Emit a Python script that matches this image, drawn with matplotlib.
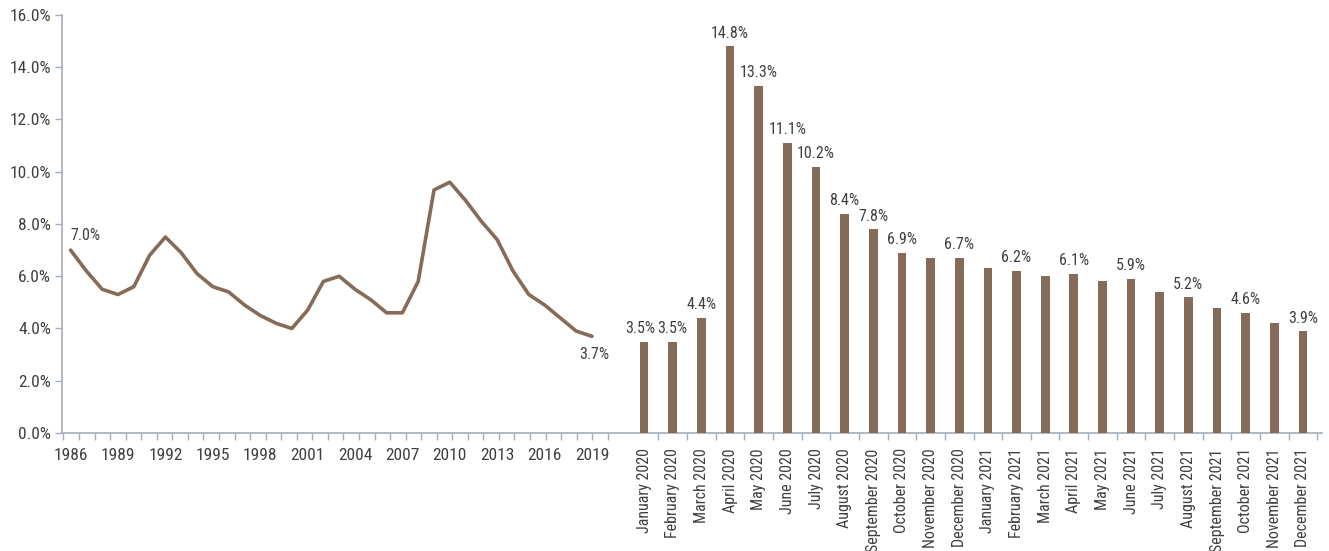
import numpy as np
import matplotlib.pyplot as plt
from matplotlib.ticker import FuncFormatter

# annual unemployment rate, 1986-2019
years = list(range(1986, 2020))
annual_rate = [7.0, 6.2, 5.5, 5.3, 5.6, 6.8, 7.5, 6.9, 6.1, 5.6, 5.4, 4.9, 4.5, 4.2,
               4.0, 4.7, 5.8, 6.0, 5.5, 5.1, 4.6, 4.6, 5.8, 9.3, 9.6, 8.9, 8.1, 7.4,
               6.2, 5.3, 4.9, 4.4, 3.9, 3.7]

# monthly unemployment rate, 2020-2021
months = ["January 2020", "February 2020", "March 2020", "April 2020", "May 2020",
          "June 2020", "July 2020", "August 2020", "September 2020", "October 2020",
          "November 2020", "December 2020", "January 2021", "February 2021",
          "March 2021", "April 2021", "May 2021", "June 2021", "July 2021",
          "August 2021", "September 2021", "October 2021", "November 2021",
          "December 2021"]
monthly_rate = [3.5, 3.5, 4.4, 14.8, 13.3, 11.1, 10.2, 8.4, 7.8, 6.9, 6.7, 6.7,
                6.3, 6.2, 6.0, 6.1, 5.8, 5.9, 5.4, 5.2, 4.8, 4.6, 4.2, 3.9]
# months that carry a value label
labelled = [True, True, True, True, True, True, True, True, True, True, False, True,
            False, True, False, True, False, True, False, True, False, True, False, True]

brown = "#876b59"
axis_col = "#a3adb8"
text_col = "#404040"
narrow = ["Roboto Condensed", "DejaVu Sans"]

fig = plt.figure(figsize=(13.29, 5.51), dpi=100)
ax = fig.add_axes([0.0467, 0.2142, 0.948, 0.7586])

# x layout: one unit per year, monthly bars placed after a gap
x_years = np.arange(len(years))
month_start = 36.3
month_step = 1.813
x_months = month_start + month_step * np.arange(len(months))

ax.plot(x_years, annual_rate, color=brown, lw=2.6, solid_capstyle="round",
        solid_joinstyle="round", zorder=3)
ax.bar(x_months, monthly_rate, width=0.55, color=brown, zorder=3)

# value labels
ax.annotate(f"{annual_rate[0]:.1f}%", (x_years[0], annual_rate[0]), xytext=(0, 5),
            textcoords="offset points", ha="left", va="bottom", fontsize=11.5,
            color=text_col, family=narrow)
ax.annotate(f"{annual_rate[-1]:.1f}%", (x_years[-1], annual_rate[-1]), xytext=(2, -8),
            textcoords="offset points", ha="center", va="top", fontsize=11.5,
            color=text_col, family=narrow)
for i, (x, v, show) in enumerate(zip(x_months, monthly_rate, labelled)):
    if show:
        # nudge the first label left so the two 3.5% labels keep a gap
        dx = -3 if i == 0 else 0
        ax.annotate(f"{v:.1f}%", (x, v), xytext=(dx, 4), textcoords="offset points",
                    ha="center", va="bottom", fontsize=11.5, color=text_col,
                    family=narrow)

ax.set_xlim(-0.54, 79.2)
ax.set_ylim(0, 16)
ax.set_yticks(np.arange(0, 17, 2))
ax.yaxis.set_major_formatter(FuncFormatter(lambda v, p: f"{v:.1f}%"))

# year labels every three years, month labels rotated underneath the bars
tick_pos = list(x_years[::3]) + list(x_months)
tick_lab = [str(y) for y in years[::3]] + months
ax.set_xticks(tick_pos)
ax.set_xticklabels(tick_lab)
n_year_labels = len(years[::3])
for i, lab in enumerate(ax.get_xticklabels()):
    lab.set_family(narrow)
    if i < n_year_labels:
        lab.set_fontsize(12.5)
    else:
        lab.set_rotation(90)
        lab.set_fontsize(11.5)
ax.tick_params(axis="x", which="major", length=0, pad=11, colors=text_col)

# small tick marks between categories
minor = list(np.linspace(-0.45, 34.0, 36)) + list(x_months + month_step / 2)
ax.set_xticks(minor, minor=True)
ax.tick_params(axis="x", which="minor", length=5, width=1, color=axis_col, direction="out")

ax.tick_params(axis="y", length=5, width=1, color=axis_col, labelcolor=text_col,
               labelsize=12.5, pad=3)
for lab in ax.get_yticklabels():
    lab.set_family(narrow)

for side in ["top", "right"]:
    ax.spines[side].set_visible(False)
for side in ["left", "bottom"]:
    ax.spines[side].set_color(axis_col)
    ax.spines[side].set_linewidth(1.2)

fig.savefig("out.png", dpi=100)
